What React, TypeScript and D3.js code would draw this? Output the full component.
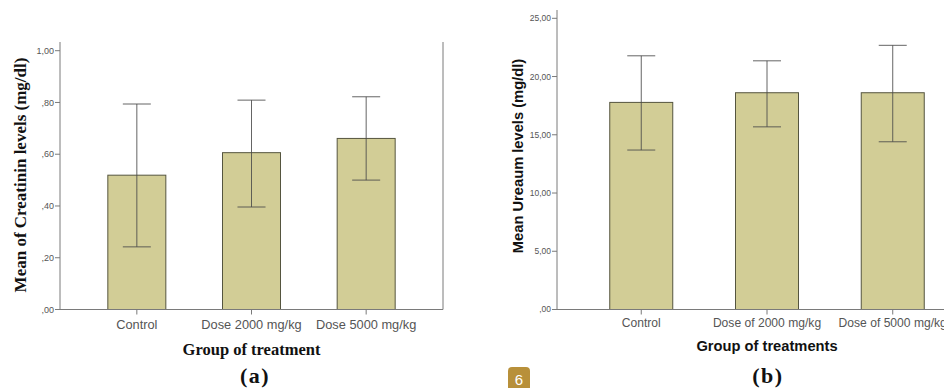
import React from "react";
import * as d3 from "d3";

// panel (a) data
const catsA = ["Control", "Dose 2000 mg/kg", "Dose 5000 mg/kg"];
const meanA = [0.519, 0.606, 0.661];
const lowA = [0.242, 0.396, 0.5];
const highA = [0.794, 0.809, 0.822];
const ticksA = [0, 0.2, 0.4, 0.6, 0.8, 1.0];

// panel (b) data
const catsB = ["Control", "Dose of 2000 mg/kg", "Dose of 5000 mg/kg"];
const meanB = [17.78, 18.61, 18.61];
const lowB = [13.69, 15.68, 14.4];
const highB = [21.78, 21.35, 22.68];
const ticksB = [0, 5, 10, 15, 20, 25];

const fmt = (v: number) => {
  const s = v.toFixed(2).replace(".", ",");
  return s.startsWith("0") ? s.slice(1) : s;
};

const barFill = "#d2cd96";
const barStroke = "#55553f";
const axisCol = "#7a7a7a";
const sans = "Liberation Sans, Arial, sans-serif";
const serif = "Liberation Serif, Times New Roman, serif";

type PanelProps = {
  cats: string[];
  mean: number[];
  low: number[];
  high: number[];
  ticks: number[];
  yMax: number;
  x0: number;
  x1: number;
  top: number;
  y0: number;
  yTop: number;
  barW: number;
  pad: number;
  tickFont: number;
  catFont: number;
  catY: number;
  yTitle: string;
  yTitleX: number;
  yTitleY: number;
  yTitleFont: string;
  yTitleSize: number;
  xTitle: string;
  xTitleY: number;
  xTitleFont: string;
  xTitleSize: number;
};

const Panel = (p: PanelProps) => {
  const y = d3.scaleLinear().domain([0, p.yMax]).range([p.y0, p.yTop]);
  const x = d3.scalePoint<string>().domain(p.cats).range([p.x0, p.x1]).padding(p.pad);
  const cap = 14;
  const xMid = x(p.cats[1]) as number;
  return (
    <g>
      {/* bars */}
      {p.cats.map((c, i) => (
        <rect
          key={c}
          x={(x(c) as number) - p.barW / 2}
          y={y(p.mean[i])}
          width={p.barW}
          height={p.y0 - y(p.mean[i])}
          fill={barFill}
          stroke={barStroke}
          strokeWidth={1}
        />
      ))}
      {/* error bars */}
      {p.cats.map((c, i) => {
        const cx = x(c) as number;
        return (
          <g key={"e" + c} stroke="#4a4a4a" strokeWidth={1} strokeOpacity={0.85}>
            <line x1={cx} x2={cx} y1={y(p.high[i])} y2={y(p.low[i])} />
            <line x1={cx - cap} x2={cx + cap} y1={y(p.high[i])} y2={y(p.high[i])} />
            <line x1={cx - cap} x2={cx + cap} y1={y(p.low[i])} y2={y(p.low[i])} />
          </g>
        );
      })}
      {/* axes + frame */}
      <line x1={p.x0} x2={p.x0} y1={p.top} y2={p.y0} stroke={axisCol} />
      <line x1={p.x0} x2={p.x1} y1={p.y0} y2={p.y0} stroke={axisCol} />
      <line x1={p.x1} x2={p.x1} y1={p.top} y2={p.y0} stroke={axisCol} />
      {p.ticks.map((t) => (
        <g key={t}>
          <line x1={p.x0 - 5} x2={p.x0} y1={y(t)} y2={y(t)} stroke={axisCol} />
          <text
            x={p.x0 - 6}
            y={y(t)}
            dy="0.35em"
            textAnchor="end"
            fontFamily={sans}
            fontSize={p.tickFont}
            fill="#555"
          >
            {fmt(t)}
          </text>
        </g>
      ))}
      {p.cats.map((c) => (
        <g key={"c" + c}>
          <line x1={x(c) as number} x2={x(c) as number} y1={p.y0} y2={p.y0 + 5} stroke={axisCol} />
          <text
            x={x(c) as number}
            y={p.catY}
            textAnchor="middle"
            fontFamily={sans}
            fontSize={p.catFont}
            fill="#555"
          >
            {c}
          </text>
        </g>
      ))}
      <text
        transform={`translate(${p.yTitleX},${p.yTitleY}) rotate(-90)`}
        textAnchor="middle"
        fontFamily={p.yTitleFont}
        fontWeight="bold"
        fontSize={p.yTitleSize}
        fill="#111"
      >
        {p.yTitle}
      </text>
      <text
        x={xMid}
        y={p.xTitleY}
        textAnchor="middle"
        fontFamily={p.xTitleFont}
        fontWeight="bold"
        fontSize={p.xTitleSize}
        fill="#111"
      >
        {p.xTitle}
      </text>
    </g>
  );
};

export default function App() {
  return (
    <svg
      width={944}
      height={388}
      style={{ position: "absolute", left: 0, top: 0, background: "#fff" }}
    >
      <Panel
        cats={catsA}
        mean={meanA}
        low={lowA}
        high={highA}
        ticks={ticksA}
        yMax={1}
        x0={60}
        x1={443}
        top={42}
        y0={309.5}
        yTop={50.7}
        barW={58}
        pad={0.67}
        tickFont={9}
        catFont={12.8}
        catY={329}
        yTitle="Mean of Creatinin levels (mg/dl)"
        yTitleX={26}
        yTitleY={175}
        yTitleFont={serif}
        yTitleSize={17}
        xTitle="Group of treatment"
        xTitleY={355}
        xTitleFont={serif}
        xTitleSize={16.5}
      />
      <Panel
        cats={catsB}
        mean={meanB}
        low={lowB}
        high={highB}
        ticks={ticksB}
        yMax={25}
        x0={557}
        x1={977}
        top={10}
        y0={309.5}
        yTop={18.3}
        barW={63}
        pad={0.67}
        tickFont={8.5}
        catFont={12.1}
        catY={327}
        yTitle="Mean Ureaum levels (mg/dl)"
        yTitleX={523}
        yTitleY={156}
        yTitleFont={sans}
        yTitleSize={14.7}
        xTitle="Group of treatments"
        xTitleY={351}
        xTitleFont={sans}
        xTitleSize={14.7}
      />
      <text x={255} y={383} textAnchor="middle" fontFamily={serif} fontWeight="bold" fontSize={22} letterSpacing={1.5} fill="#111">
        (a)
      </text>
      <text x={768} y={383} textAnchor="middle" fontFamily={serif} fontWeight="bold" fontSize={22} letterSpacing={1.5} fill="#111">
        (b)
      </text>
      <rect x={508} y={367} width={22} height={24} rx={4} fill="#b8903a" />
      <text x={519} y={385} textAnchor="middle" fontFamily={sans} fontSize={15} fill="#fff">
        6
      </text>
    </svg>
  );
}
